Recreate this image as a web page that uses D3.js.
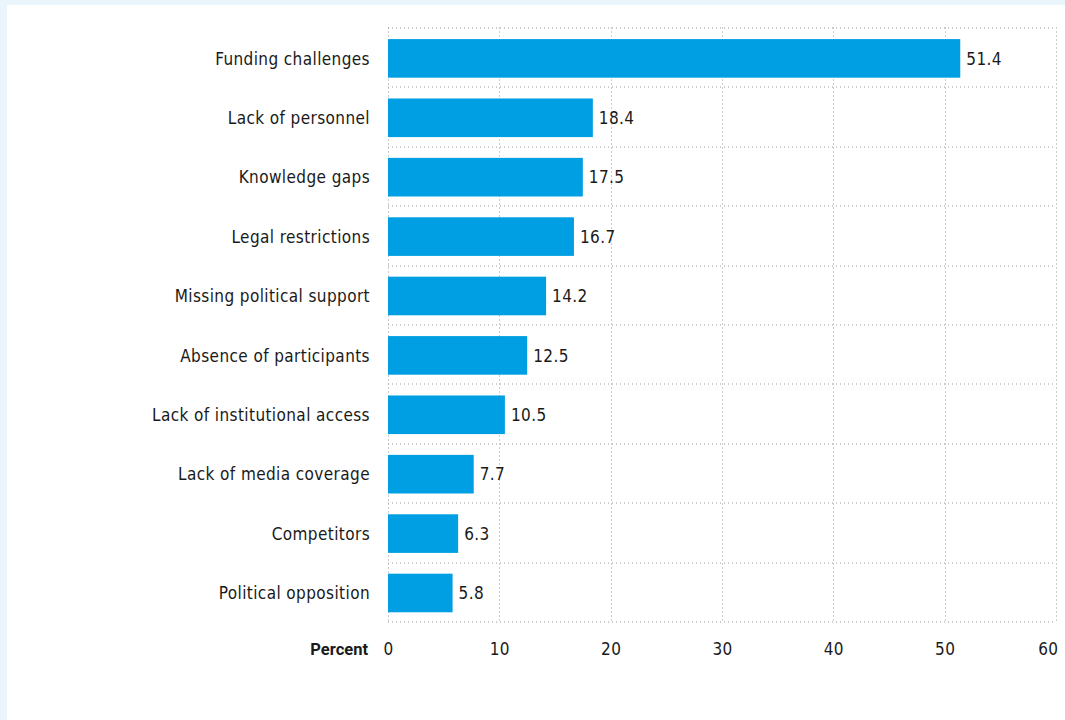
<!DOCTYPE html>
<html>
<head>
<meta charset="utf-8">
<script src="https://cdn.jsdelivr.net/npm/d3@7"></script>
<style>
  body { margin: 0; background: #e9f4fb; }
  #chart { position: absolute; left: 7px; top: 5px; width: 1058px; height: 715px; background: #fff; }
  text { font-family: "DejaVu Sans Condensed", Roboto, sans-serif; fill: #1a1a1a; }
</style>
</head>
<body>
<div id="chart"></div>
<script>
// categories and their values (percent)
var categories = ["Funding challenges", "Lack of personnel", "Knowledge gaps", "Legal restrictions",
                  "Missing political support", "Absence of participants", "Lack of institutional access",
                  "Lack of media coverage", "Competitors", "Political opposition"];
var values = [51.4, 18.4, 17.5, 16.7, 14.2, 12.5, 10.5, 7.7, 6.3, 5.8];
var xTicks = [0, 10, 20, 30, 40, 50, 60];

function main()
{
    var fontSize = "17px";
    var spacing = "0.4px";
    var margin = {top: 22.5, left: 381};
    var width = 668;
    var height = 594;

    var svg = d3.select("#chart").append("svg")
        .attr("width", 1058)
        .attr("height", 715);
    var g = svg.append("g")
        .attr("transform", "translate(" + margin.left + "," + margin.top + ")");

    var x = d3.scaleLinear().domain([0, 60]).range([0, width]);
    var y = d3.scaleBand().domain(categories).range([0, height]);
    var barTop = y.step() * 0.195;
    var barH = y.step() * 0.65;

    // dotted grid, vertical
    g.selectAll(".vgrid").data(xTicks).enter().append("line")
        .attr("x1", function(d) { return Math.round(x(d)) + 0.5; })
        .attr("x2", function(d) { return Math.round(x(d)) + 0.5; })
        .attr("y1", 0).attr("y2", height)
        .attr("stroke", "#999").attr("stroke-dasharray", "1,3");

    // dotted grid, horizontal (band edges)
    var edges = categories.map(function(c) { return y(c); }).concat([height]);
    g.selectAll(".hgrid").data(edges).enter().append("line")
        .attr("x1", 0).attr("x2", width)
        .attr("y1", function(d) { return Math.round(d) + 0.5; })
        .attr("y2", function(d) { return Math.round(d) + 0.5; })
        .attr("stroke", "#999").attr("stroke-dasharray", "1,3");

    // bars
    g.selectAll(".bar").data(values).enter().append("rect")
        .attr("x", x(0))
        .attr("y", function(d, i) { return y(categories[i]) + barTop; })
        .attr("width", function(d) { return x(d) - x(0); })
        .attr("height", barH)
        .attr("fill", "#009fe3");

    // value labels
    g.selectAll(".val").data(values).enter().append("text")
        .attr("x", function(d) { return x(d) + 6; })
        .attr("y", function(d, i) { return y(categories[i]) + barTop + barH / 2; })
        .attr("dy", "0.36em")
        .style("font-size", fontSize)
        .style("letter-spacing", spacing)
        .text(function(d) { return d.toFixed(1); });

    // category labels
    g.selectAll(".cat").data(categories).enter().append("text")
        .attr("x", -18)
        .attr("y", function(d) { return y(d) + barTop + barH / 2; })
        .attr("dy", "0.36em")
        .attr("text-anchor", "end")
        .style("font-size", fontSize)
        .style("letter-spacing", spacing)
        .text(function(d) { return d; });

    // x axis labels
    var xAxis = d3.axisBottom(x).tickValues(xTicks).tickSize(0).tickPadding(0);
    var xa = g.append("g").attr("transform", "translate(0," + height + ")").call(xAxis);
    xa.select(".domain").remove();
    xa.selectAll("text")
        .attr("y", 33.5).attr("dy", null)
        .style("font-size", fontSize)
        .style("letter-spacing", spacing)
        .style("font-family", null)
        .attr("fill", "#1a1a1a");
    xa.selectAll(".tick").filter(function(d) { return d === 60; }).select("text")
        .attr("text-anchor", "end").attr("x", 2);

    g.append("text")
        .attr("x", -20)
        .attr("y", height + 33.5)
        .attr("text-anchor", "end")
        .style("font-family", "Roboto, sans-serif")
        .style("font-size", "16.5px")
        .style("font-weight", "bold")
        .text("Percent");
}
main();
</script>
</body>
</html>
